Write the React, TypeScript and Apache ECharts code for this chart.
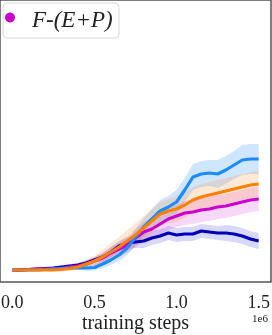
import React, { useEffect, useRef } from "react";
import * as echarts from "echarts";

// training steps (0 .. 1.5e6, every 0.05e6)
const steps: number[] = Array.from({ length: 31 }, (_, i) => i * 50000);
const xTicks = [0, 500000, 1000000, 1500000];

const lightBlue = [12,12,12,12,12.5,13,13.5,14,14,14,14.5,18,22,27,34,45,55,63,71,75,80,92,105,108,109,108,112,117,122,123,123];
const lightBlueSpread = [0.5,0.5,1,1,1,1.5,1.5,2,2,2.5,3,4,5,6,7,8,9,10,11,11,12,12,13,13,13,14,14,14,15,15,15];

const orange = [12,12,12,12,12,12,12.5,13.5,15,18,21,25,30,35,41,47,54,61,68,71,73,77,82,85,87,89,91,93,95,97,98];
const orangeSpread = [0.5,0.5,1,1,1,1.5,2,2.5,3,4,5,7,9,10,11,12,12,12,12,12,13,13,13,13,13,13,13,13,13,13,13];

const magenta = [12,12,12.5,13,13,13.5,14,15,16,18,21,24,29,33,37,44,50,53,58,63,66,69,70,72,73,75,76,78,80,82,83];
const magentaSpread = [0.5,0.5,1,1,1,1.5,2,2,3,3,4,5,6,7,8,9,10,10,11,11,11,12,12,12,12,12,12,12,12,12,12];

const darkBlue = [12,12,12.5,13,13.5,14,15,16,17,19,22,25,30,36,39,40,41,44,46,49,47,48,48,51,50,49,49,48,46,43,41];
const darkBlueSpread = [0.5,0.5,1,1,1,1.5,1.5,2,2,3,3,4,5,5,6,6,7,7,7,7,7,7,7,7,7,7,8,8,8,8,8];

const legendLabel = "F-(E+P)";

const SERIES = [
  { name: "darkBlue", values: darkBlue, spread: darkBlueSpread, color: "#0000b8", band: "rgba(60,60,220,0.2)" },
  { name: "F-(E+P)", values: magenta, spread: magentaSpread, color: "#cc00cc", band: "rgba(220,60,220,0.2)" },
  { name: "lightBlue", values: lightBlue, spread: lightBlueSpread, color: "#1a8cff", band: "rgba(40,140,255,0.22)" },
  { name: "orange", values: orange, spread: orangeSpread, color: "#ff8000", band: "rgba(255,140,40,0.2)" },
];

export default function App() {
  const ref = useRef<HTMLDivElement>(null);
  useEffect(() => {
    if (!ref.current) return;
    const chart = echarts.init(ref.current, undefined, { renderer: "svg" });
    const series: any[] = [];
    SERIES.forEach((s) => {
      series.push({
        type: "custom",
        name: s.name + "_band",
        data: [[0, 0]],
        silent: true,
        z: 1,
        renderItem: (params: any, api: any) => {
          const pts: number[][] = [];
          for (let i = 0; i < steps.length; i++) {
            pts.push(api.coord([steps[i], s.values[i] + s.spread[i]]));
          }
          for (let i = steps.length - 1; i >= 0; i--) {
            pts.push(api.coord([steps[i], s.values[i] - s.spread[i]]));
          }
          return { type: "polygon", shape: { points: pts }, style: { fill: s.band } };
        },
      });
    });
    SERIES.forEach((s) => {
      series.push({
        type: "line",
        name: s.name,
        data: s.values.map((v, i) => [steps[i], v]),
        symbol: "none",
        lineStyle: { color: s.color, width: 3.2 },
        z: 3,
      });
    });
    chart.setOption({
      animation: false,
      grid: {
        left: 0,
        right: 1,
        top: 0,
        bottom: 53,
        outerBoundsMode: "none",
        containLabel: false,
        show: true,
        borderColor: "#555",
        borderWidth: 1.5,
        backgroundColor: "#fff",
      },
      xAxis: {
        type: "value",
        min: -75000,
        max: 1575000,
        axisLine: { show: false },
        axisTick: { show: false },
        splitLine: { show: false },
        axisLabel: {
          customValues: xTicks,
          formatter: (v: number) => (v / 1e6).toFixed(1),
          fontFamily: "Liberation Serif",
          fontSize: 18,
          color: "#222",
          margin: 11,
        },
        name: "training steps",
        nameLocation: "middle",
        nameGap: 30,
        nameMoveOverlap: false,
        nameTextStyle: { fontFamily: "Liberation Serif", fontSize: 20, color: "#222" },
      },
      yAxis: {
        type: "value",
        min: 0,
        max: 282,
        show: false,
      },
      graphic: [
        {
          type: "text",
          right: 4,
          top: 312,
          style: { text: "1e6", fontFamily: "Liberation Serif", fontSize: 11, fill: "#222" },
        },
        {
          type: "rect",
          shape: { x: 3, y: 3, width: 116, height: 35, r: 4 },
          style: { fill: "rgba(255,255,255,0.85)", stroke: "#d8d8d8", lineWidth: 1 },
          z: 10,
        },
        {
          type: "circle",
          shape: { cx: 10, cy: 17.5, r: 5 },
          style: { fill: "#cc00cc" },
          z: 11,
        },
        {
          type: "text",
          x: 32,
          y: 19,
          style: {
            text: legendLabel,
            fontFamily: "Liberation Serif",
            fontStyle: "italic",
            fontSize: 23,
            fill: "#222",
            verticalAlign: "middle",
          },
          z: 11,
        },
      ],
      series,
    });
    return () => chart.dispose();
  }, []);
  return <div ref={ref} style={{ position: "fixed", left: 0, top: 0, width: 272, height: 335 }} />;
}
